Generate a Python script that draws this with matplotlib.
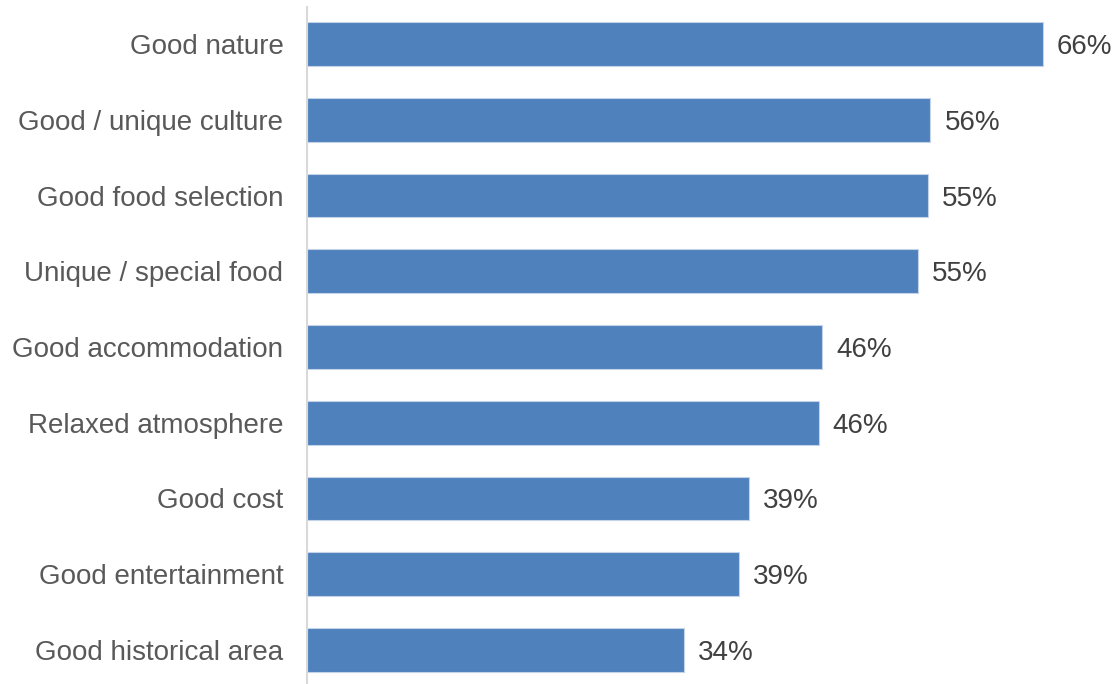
import matplotlib
matplotlib.use("Agg")
import matplotlib.pyplot as plt

categories = ["Good nature", "Good / unique culture", "Good food selection",
              "Unique / special food", "Good accommodation", "Relaxed atmosphere",
              "Good cost", "Good entertainment", "Good historical area"]
values = [66.0, 55.9, 55.7, 54.8, 46.2, 45.9, 39.6, 38.7, 33.8]
labels = ["66%", "56%", "55%", "55%", "46%", "46%", "39%", "39%", "34%"]

plt.rcParams["font.family"] = ["Liberation Sans", "DejaVu Sans"]

fig = plt.figure(figsize=(11.16, 6.84), dpi=100)
ax = fig.add_axes([307 / 1116, 0, (1110 - 307) / 1116, 1])

y = range(len(categories))
bars = ax.barh(y, values, height=0.58, color="#4F81BD", edgecolor="#C5D3E8",
               linewidth=0.8)
for b, lab in zip(bars, labels):
    ax.text(b.get_width() + 1.25, b.get_y() + b.get_height() / 2, lab,
            va="center_baseline", ha="left", fontsize=20, color="#404040")

ax.set_xlim(0, 72)
ax.set_ylim(8.449, -0.581)
ax.set_yticks(list(y))
ax.set_yticklabels(categories, fontsize=20, color="#595959")
ax.tick_params(axis="y", length=0, pad=17)
ax.set_xticks([])
for s in ["top", "right", "bottom"]:
    ax.spines[s].set_visible(False)
ax.spines["left"].set_color("#D9D9D9")
ax.spines["left"].set_linewidth(1.5)
ax.spines["left"].set_bounds(8.449, -0.49)

fig.savefig("out.png", dpi=100)
